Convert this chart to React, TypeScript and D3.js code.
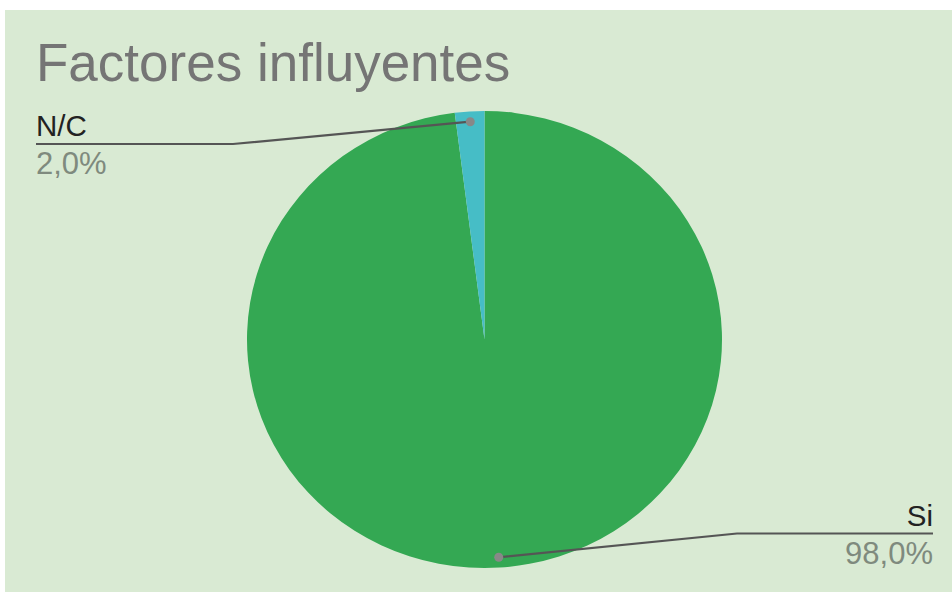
import React from "react";
import * as d3 from "d3";

const title = "Factores influyentes";
const categories = ["Si", "N/C"];
const values = [98, 2];
const colors = ["#34a853", "#46bdc6"];

export default function App() {
  const W = 952, H = 592;
  const cx = 484.5, cy = 339.5;
  const ry = 228.5, rx = 237.5;
  const total = d3.sum(values);
  const pie = d3.pie<number>().sort(null).value((d) => d)(values);
  const arc = d3.arc<d3.PieArcDatum<number>>().innerRadius(0).outerRadius(ry);
  const sx = rx / ry;
  const fmt = (v: number) => d3.format(".1f")((v / total) * 100).replace(".", ",") + "%";

  const labels = pie.map((p, i) => {
    const mid = (p.startAngle + p.endAngle) / 2;
    const dr = ry * 0.955;
    const dx = cx + Math.sin(mid) * dr * sx;
    const dy = cy - Math.cos(mid) * dr;
    return { i, mid, dx, dy };
  });

  const callout: Record<string, { bendX: number; lineY: number; endX: number; anchor: "start" | "end" }> = {
    "N/C": { bendX: 233, lineY: 144, endX: 36, anchor: "start" },
    Si: { bendX: 737, lineY: 533.5, endX: 933, anchor: "end" },
  };

  return (
    <svg width={W} height={H} style={{ position: "absolute", left: 0, top: 0 }} fontFamily="'Liberation Sans', Arial, sans-serif">
      <rect x={5} y={10} width={W - 5} height={H - 10} fill="#d9ead3" />
      <text x={36} y={81} fontSize={53} fill="#757575">{title}</text>
      <g transform={`translate(${cx},${cy}) scale(${sx},1)`}>
        {pie.map((p, i) => (
          <path key={i} d={arc(p) || ""} fill={colors[i]} />
        ))}
      </g>
      {labels.map((l) => {
        const name = categories[l.i];
        const c = callout[name];
        return (
          <g key={name}>
            <polyline
              points={`${l.dx},${l.dy} ${c.bendX},${c.lineY} ${c.endX},${c.lineY}`}
              fill="none"
              stroke="#555"
              strokeWidth={2.2}
            />
            <circle cx={l.dx} cy={l.dy} r={4.5} fill="#888" />
            <text x={c.endX} y={c.lineY - 8} fontSize={29.5} fill="#222" textAnchor={c.anchor}>{name}</text>
            <text x={c.endX} y={c.lineY + 30} fontSize={31} fill="#7f8a7e" textAnchor={c.anchor}>{fmt(values[l.i])}</text>
          </g>
        );
      })}
    </svg>
  );
}
